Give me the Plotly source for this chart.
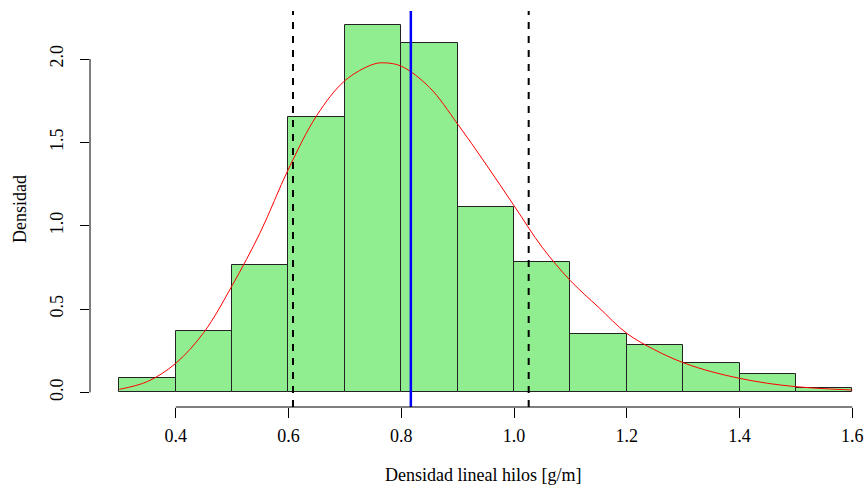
import plotly.graph_objects as go

# Histogram of yarn linear density (density-scaled, bin width 0.1)
bin_left = [0.3, 0.4, 0.5, 0.6, 0.7, 0.8, 0.9, 1.0, 1.1, 1.2, 1.3, 1.4, 1.5]
bin_density = [0.088, 0.368, 0.762, 1.653, 2.203, 2.095, 1.113, 0.782,
               0.352, 0.286, 0.178, 0.108, 0.024]
bin_width = 0.1

# Fitted density curve
curve_x = [0.30, 0.35, 0.40, 0.45, 0.50, 0.55, 0.60, 0.65, 0.70, 0.75, 0.77,
           0.80, 0.85, 0.90, 0.95, 1.00, 1.05, 1.10, 1.15, 1.20, 1.25, 1.30,
           1.35, 1.40, 1.45, 1.50, 1.55, 1.60]
curve_y = [0.018, 0.065, 0.174, 0.36, 0.64, 0.96, 1.34, 1.66, 1.87, 1.968, 1.977,
           1.957, 1.83, 1.61, 1.37, 1.12, 0.87, 0.67, 0.51, 0.354, 0.254, 0.178,
           0.124, 0.084, 0.054, 0.034, 0.022, 0.014]

# Mean and mean +/- one standard deviation
mean_value = 0.817
sd_low = 0.608
sd_high = 1.026

x_ticks = [0.4, 0.6, 0.8, 1.0, 1.2, 1.4, 1.6]
x_tick_text = ["0.4", "0.6", "0.8", "1.0", "1.2", "1.4", "1.6"]
y_ticks = [0.0, 0.5, 1.0, 1.5, 2.0]
y_tick_text = ["0.0", "0.5", "1.0", "1.5", "2.0"]

FONT = "Liberation Serif, Times New Roman, serif"

fig = go.Figure()

fig.add_trace(go.Bar(
    x=[b + bin_width / 2 for b in bin_left],
    y=bin_density,
    width=bin_width,
    marker=dict(color="#90EE90", line=dict(color="#222222", width=1)),
    hoverinfo="skip",
))

fig.add_trace(go.Scatter(
    x=curve_x, y=curve_y, mode="lines",
    line=dict(color="#FF0000", width=1, shape="spline", smoothing=1.0),
    hoverinfo="skip",
))

shapes = [
    # vertical reference lines
    dict(type="line", xref="x", yref="paper", x0=sd_low, x1=sd_low, y0=0, y1=1,
         line=dict(color="black", width=2, dash="7px,7px")),
    dict(type="line", xref="x", yref="paper", x0=sd_high, x1=sd_high, y0=0, y1=1,
         line=dict(color="black", width=2, dash="7px,7px")),
    dict(type="line", xref="x", yref="paper", x0=mean_value, x1=mean_value, y0=0, y1=1,
         line=dict(color="#0000FF", width=2.5)),
    # axis lines spanning the tick range only
    dict(type="line", xref="x", yref="paper", x0=x_ticks[0], x1=x_ticks[-1], y0=0, y1=0,
         line=dict(color="black", width=1)),
    dict(type="line", xref="paper", yref="y", x0=0, x1=0, y0=y_ticks[0], y1=y_ticks[-1],
         line=dict(color="black", width=1)),
]

annotations = [
    dict(text="Densidad lineal hilos [g/m]", xref="paper", yref="paper",
         x=0.506, y=0, xanchor="center", yanchor="middle", yshift=-68,
         showarrow=False, font=dict(family=FONT, size=18, color="black")),
    dict(text="Densidad", xref="paper", yref="paper",
         x=0, y=0.5, xanchor="center", yanchor="middle", xshift=-70,
         textangle=-90, showarrow=False,
         font=dict(family=FONT, size=18, color="black")),
]

fig.update_layout(
    width=867, height=492,
    margin=dict(l=90, r=0, t=11, b=85),
    paper_bgcolor="white", plot_bgcolor="white",
    showlegend=False, bargap=0,
    shapes=shapes, annotations=annotations,
    font=dict(family=FONT, size=18, color="black"),
    xaxis=dict(range=[0.248, 1.626], tickvals=x_ticks, ticktext=x_tick_text,
               ticks="outside", ticklen=10, tickwidth=1, tickcolor="black",
               ticklabelstandoff=2,
               showgrid=False, zeroline=False, showline=False,
               tickfont=dict(family=FONT, size=18, color="black")),
    yaxis=dict(range=[-0.088, 2.288], tickvals=y_ticks, ticktext=y_tick_text,
               ticks="outside", ticklen=9, tickwidth=1, tickcolor="black",
               tickangle=-90, ticklabelstandoff=10,
               showgrid=False, zeroline=False, showline=False,
               tickfont=dict(family=FONT, size=18, color="black")),
)

fig.write_html("out.html")
